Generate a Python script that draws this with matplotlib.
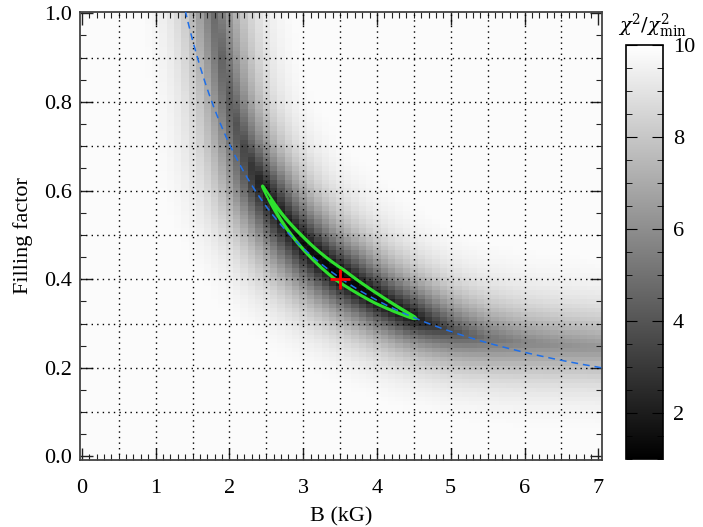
"""
Chi-square map in the (B, filling factor) plane.
"""

import numpy as np
import matplotlib.pyplot as plt
from matplotlib.ticker import MultipleLocator

plt.rcParams['font.family'] = ['Liberation Serif', 'DejaVu Serif']
plt.rcParams['mathtext.fontset'] = 'dejavuserif'

# valley of the chi2 map (B in kG, filling factor)
valley_b = [1.5, 1.65, 1.8, 2.0, 2.2, 2.45, 2.95, 3.5, 4.0, 4.5, 5.0, 5.5, 6.0, 6.5, 7.0, 7.5]
valley_f = [1.3, 1.15, 1.0, 0.8, 0.69, 0.6, 0.48, 0.405, 0.352, 0.31, 0.278, 0.263, 0.256, 0.25, 0.244, 0.24]
valley_min = [6.0, 5.4, 4.8, 4.3, 3.6, 1.95, 1.45, 1.0, 1.3, 1.85, 3.7, 5.0, 5.7, 6.1, 6.3, 6.4]
# distance (screen px) from the valley floor where chi2 reaches ~9,
# upper-right side and lower-left side
reach_hi = [44, 44, 44, 46, 52, 58, 64, 66, 64, 62, 58, 54, 50, 48, 47, 47]
reach_lo = [40, 40, 42, 46, 54, 62, 66, 64, 60, 56, 52, 48, 46, 44, 42, 42]

best_b, best_f = 3.5, 0.40
flux = 1.41            # B*f of the dashed curve
levels = [1.85, 2.0]   # green contours

b_cells = np.arange(0.0, 7.0001, 0.1)
f_cells = np.arange(0.0, 1.0001, 0.01)

PX_B, PX_F, SHAPE = 74.0, 446.0, 1.3


def valley_line():
    # dense, lightly smoothed centre line in screen pixels
    vb = np.array(valley_b) * PX_B
    vf = np.array(valley_f) * PX_F
    arc = np.concatenate([[0], np.cumsum(np.hypot(np.diff(vb), np.diff(vf)))])
    t = np.linspace(0, arc[-1], 240)
    xb, yf = np.interp(t, arc, vb), np.interp(t, arc, vf)
    k = 15
    pad = lambda a: np.concatenate([np.full(k, a[0]), a, np.full(k, a[-1])])
    win = np.ones(2 * k + 1) / (2 * k + 1)
    xb = np.convolve(pad(xb), win, mode='valid')
    yf = np.convolve(pad(yf), win, mode='valid')
    return xb, yf


def chi2_map(bb, ff):
    vb, vf = valley_line()
    px, py = bb * PX_B, ff * PX_F
    best = np.full(bb.shape, np.inf)
    sign = np.ones(bb.shape)
    proj = np.zeros(bb.shape)
    for i in range(len(vb) - 1):
        x0, y0 = vb[i], vf[i]
        dx, dy = vb[i + 1] - x0, vf[i + 1] - y0
        t = np.clip(((px - x0) * dx + (py - y0) * dy) / (dx * dx + dy * dy), 0, 1)
        qx, qy = x0 + t * dx, y0 + t * dy
        d = np.hypot(px - qx, py - qy)
        cr = dx * (py - y0) - dy * (px - x0)
        sel = d < best
        best[sel] = d[sel]
        sign[sel] = np.where(cr[sel] >= 0, 1.0, -1.0)
        proj[sel] = qx[sel] / PX_B
    m = np.interp(proj, valley_b, valley_min)
    reach = np.where(sign > 0, np.interp(proj, valley_b, reach_hi),
                     np.interp(proj, valley_b, reach_lo))
    s = reach / np.log(10 - m) ** (1 / SHAPE)
    chi = 10 - (10 - m) * np.exp(-(best / s) ** SHAPE)
    return np.clip(chi, 1, 9.85)


fig = plt.figure(figsize=(7.03, 5.27), dpi=100)
ax = fig.add_axes([80 / 703, 67 / 527, 522 / 703, 448 / 527])

BB, FF = np.meshgrid(b_cells, f_cells)
chi = chi2_map(BB, FF)
b_edges = np.append(b_cells - 0.05, b_cells[-1] + 0.05)
f_edges = np.append(f_cells - 0.005, f_cells[-1] + 0.005)
img = ax.pcolormesh(b_edges, f_edges, chi, cmap='gray', vmin=1, vmax=10,
                    shading='flat', zorder=0)

# smooth contours on a finer grid
bf, ff_ = np.meshgrid(np.arange(2.0, 5.2, 0.01), np.arange(0.2, 0.7, 0.002))
ax.contour(bf, ff_, chi2_map(bf, ff_), levels=levels, colors='#2ee02e',
           linewidths=1.6, zorder=3)

bline = np.linspace(1.3, 7.1, 300)
ax.plot(bline, flux / bline, color='#1f6fe8', lw=1.1, dashes=(4.5, 3.2), zorder=4)
ax.plot(best_b, best_f, marker='+', color='red', ms=14, mew=2, zorder=5)

ax.set_xlim(-0.025, 7.05)
ax.set_ylim(-0.008, 1.003)
ax.xaxis.set_major_locator(MultipleLocator(1))
ax.xaxis.set_minor_locator(MultipleLocator(0.1))
ax.yaxis.set_major_locator(MultipleLocator(0.2))
ax.yaxis.set_minor_locator(MultipleLocator(0.05))
ax.yaxis.set_major_formatter(plt.FormatStrFormatter('%.1f'))
ax.tick_params(which='both', direction='in', top=True, right=True,
               labelsize=16, color='#222222')
ax.tick_params(axis='x', pad=14)
ax.tick_params(axis='y', pad=6)
ax.tick_params(which='major', length=9, width=1)
ax.tick_params(which='minor', length=4, width=0.8)

for x in np.arange(0.5, 7.0, 0.5):
    ax.axvline(x, color='black', lw=1, ls=(0, (1, 3)), zorder=2)
for y in np.arange(0.1, 1.0, 0.1):
    ax.axhline(y, color='black', lw=1, ls=(0, (1, 3)), zorder=2)

for sp in ax.spines.values():
    sp.set_color('#444444')
    sp.set_linewidth(1.3)

ax.set_xlabel('B (kG)', fontsize=16, labelpad=6)
ax.set_ylabel('Filling factor', fontsize=16, labelpad=8)

cax = fig.add_axes([626 / 703, 68 / 527, 37 / 703, 414 / 527])
cb = fig.colorbar(img, cax=cax)
cb.set_ticks([2, 4, 6, 8, 10])
cb.ax.yaxis.set_minor_locator(MultipleLocator(0.5))
cb.ax.tick_params(which='both', direction='in', left=True, right=True,
                  labelsize=16, pad=7)
cb.ax.tick_params(which='major', length=8)
cb.ax.tick_params(which='minor', length=4)
cb.outline.set_linewidth(1.2)
fig.text(652 / 703, 1 - 26 / 527, r'$\chi^2/\chi^2_{\rm min}$', ha='center',
         va='center', fontsize=14)

fig.savefig('out.png', dpi=100)
